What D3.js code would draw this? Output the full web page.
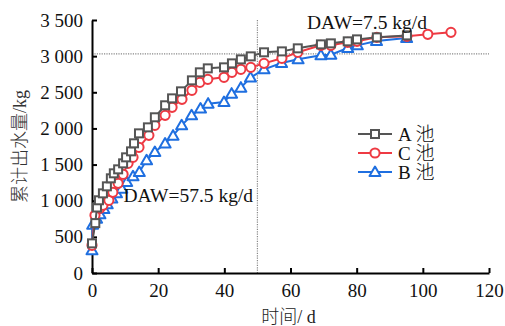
<!DOCTYPE html>
<html>
<head>
<meta charset="utf-8">
<script src="https://cdn.jsdelivr.net/npm/d3@7"></script>
<style>
  body { margin: 0; background: #fff; }
  text { font-family: "Liberation Serif", "Noto Sans CJK SC", serif; }
  .cjk { font-weight: 300; }
</style>
</head>
<body>
<div id="chart-area"></div>
<script>

// Data
var seriesNames = ["A 池", "C 池", "B 池"];
var seriesColors = ["#555555", "#ee3a43", "#1f6fe0"];
var seriesShapes = ["square", "circle", "triangle"];

var daysA = [0, 1, 1.5, 2.1, 3.3, 4.5, 5.7, 6.6, 7.9, 9.4, 10.3, 11.8, 12.7, 14.2, 16.9, 19, 22.1, 24.2, 26.9, 30.2, 32.6, 35, 39.9, 42.3, 45, 48, 52, 57.4, 62.2, 69.2, 72.2, 77.3, 80.1, 86.1, 95.2];
var valuesA = [410, 690, 906, 1006, 1102, 1199, 1310, 1379, 1434, 1517, 1600, 1683, 1794, 1932, 2015, 2154, 2320, 2416, 2513, 2665, 2776, 2831, 2845, 2900, 2955, 2997, 3053, 3066, 3108, 3163, 3177, 3205, 3232, 3260, 3287];

var daysC = [0, 0.9, 2.4, 3.3, 5.1, 6.3, 7.9, 9.4, 10.9, 12.4, 14.2, 17.2, 19, 22.1, 24.2, 27.2, 30.2, 32.6, 35, 39.9, 42.3, 45, 48, 52, 57.4, 62.2, 69.2, 72.2, 77.3, 80.1, 86.1, 95.2, 101.5, 108.5];
var valuesC = [383, 798, 895, 936, 1006, 1116, 1241, 1365, 1517, 1600, 1739, 1904, 2043, 2181, 2292, 2403, 2527, 2638, 2679, 2707, 2776, 2818, 2845, 2900, 2970, 3053, 3150, 3150, 3191, 3205, 3260, 3274, 3302, 3329];

var daysB = [0, 0.2, 1.4, 2.4, 3.6, 4.6, 6, 7.4, 9, 10.5, 12.4, 14.3, 16.5, 19, 22.1, 24.5, 27.1, 30.1, 32.8, 35.1, 39.9, 42.2, 45, 47.9, 52, 57.3, 62.3, 69.2, 72.2, 77.3, 80.2, 86, 95.1];
var valuesB = [314, 669, 752, 812, 885, 950, 1029, 1102, 1167, 1259, 1337, 1397, 1559, 1674, 1790, 1900, 2043, 2181, 2274, 2343, 2365, 2481, 2564, 2703, 2817, 2905, 2956, 3011, 3020, 3112, 3149, 3209, 3250];

var xTicks = [0, 20, 40, 60, 80, 100, 120];
var yTicks = [0, 500, 1000, 1500, 2000, 2500, 3000, 3500];

var refDay = 50;
var refValue = 3030;

var notes = [
  {text: "DAW=7.5 kg/d", day: 65, value: 3375},
  {text: "DAW=57.5 kg/d", day: 9.5, value: 980}
];

var series = [
  {days: daysA, values: valuesA},
  {days: daysC, values: valuesC},
  {days: daysB, values: valuesB}
];

// SVG drawing area
var W = 505, H = 326;
var margin = {top: 20, right: 16, bottom: 53, left: 92};
var width = W - margin.left - margin.right,
    height = H - margin.top - margin.bottom;

var svg = d3.select("#chart-area").append("svg")
    .attr("width", W)
    .attr("height", H)
    .append("g")
    .attr("transform", `translate(${margin.left}, ${margin.top})`);

// Scales
var x = d3.scaleLinear().domain([0, 120]).range([0, width]);
var y = d3.scaleLinear().domain([0, 3500]).range([height, 0]);

var fmt = d3.formatLocale({decimal: ".", thousands: " ", grouping: [3], currency: ["", ""]}).format(",");

// Reference lines
svg.append("line")
    .attr("x1", 0).attr("x2", width)
    .attr("y1", y(refValue)).attr("y2", y(refValue))
    .attr("stroke", "#888").attr("stroke-width", 1.2)
    .attr("stroke-dasharray", "1.2,1.2");

svg.append("line")
    .attr("x1", x(refDay)).attr("x2", x(refDay))
    .attr("y1", 0).attr("y2", height)
    .attr("stroke", "#888").attr("stroke-width", 1.2)
    .attr("stroke-dasharray", "1.2,1.2");

// Axes
var xAxis = d3.axisBottom(x).tickValues(xTicks).tickSizeInner(-5).tickSizeOuter(0).tickPadding(11);
var yAxis = d3.axisLeft(y).tickValues(yTicks).tickSizeInner(-5).tickSizeOuter(0).tickPadding(9).tickFormat(fmt);

var gx = svg.append("g")
    .attr("class", "x-axis")
    .attr("transform", "translate(0," + height + ")")
    .call(xAxis);

var gy = svg.append("g")
    .attr("class", "y-axis")
    .call(yAxis);

[gx, gy].forEach(function(g) {
  g.select(".domain").attr("stroke", "#000").attr("stroke-width", 2);
  g.selectAll(".tick line").attr("stroke", "#000").attr("stroke-width", 2);
  g.selectAll(".tick text").attr("font-size", 19).attr("fill", "#111");
});

// Axis titles
svg.append("text")
    .attr("class", "cjk")
    .attr("x", x(60) - 2)
    .attr("y", height + 50)
    .attr("text-anchor", "middle")
    .attr("font-size", 18)
    .attr("fill", "#222")
    .text("时间/ d");

svg.append("text")
    .attr("class", "cjk")
    .attr("transform", `translate(${-66}, ${height / 2}) rotate(-90)`)
    .attr("text-anchor", "middle")
    .attr("font-size", 18)
    .attr("fill", "#333")
    .text("累计出水量/kg");

// Marker drawing
function drawMarker(sel, shape, color) {
  if (shape === "square") {
    sel.append("rect")
        .attr("x", -4).attr("y", -4).attr("width", 8).attr("height", 8)
        .attr("fill", "#fff").attr("stroke", color).attr("stroke-width", 2);
  } else if (shape === "circle") {
    sel.append("circle")
        .attr("r", 4.6)
        .attr("fill", "#fff").attr("stroke", color).attr("stroke-width", 2);
  } else {
    sel.append("path")
        .attr("d", "M0,-5.5L5.5,4L-5.5,4Z")
        .attr("fill", "#fff").attr("stroke", color).attr("stroke-width", 2)
        .attr("stroke-linejoin", "round");
  }
}

var line = d3.line()
    .x(d => x(d[0]))
    .y(d => y(d[1]));

// Draw in order B (bottom), C, A on top like reference
[2, 1, 0].forEach(function(i) {
  var s = series[i];
  var pts = s.days.map((d, k) => [d, s.values[k]]);
  var g = svg.append("g");
  g.append("path")
      .datum(pts)
      .attr("fill", "none")
      .attr("stroke", seriesColors[i])
      .attr("stroke-width", 2)
      .attr("d", line);
  g.selectAll(".pt")
      .data(pts)
      .join("g")
      .attr("class", "pt")
      .attr("transform", d => `translate(${x(d[0])}, ${y(d[1])})`)
      .each(function() { drawMarker(d3.select(this), seriesShapes[i], seriesColors[i]); });
});

// Notes
svg.selectAll(".note")
    .data(notes)
    .join("text")
    .attr("class", "note")
    .attr("x", d => x(d.day))
    .attr("y", d => y(d.value))
    .attr("font-size", 19.5)
    .attr("fill", "#111")
    .text(d => d.text);

// Legend
var legend = svg.append("g")
    .attr("transform", `translate(${358 - margin.left}, ${134 - margin.top})`);

seriesNames.forEach(function(name, i) {
  var row = legend.append("g").attr("transform", `translate(0, ${i * 19})`);
  row.append("line")
      .attr("x1", 0).attr("x2", 34)
      .attr("stroke", seriesColors[i]).attr("stroke-width", 2);
  var m = row.append("g").attr("transform", "translate(17, 0)");
  drawMarker(m, seriesShapes[i], seriesColors[i]);
  row.append("text")
      .attr("class", "cjk")
      .attr("x", 40)
      .attr("y", 6.5)
      .attr("font-size", 19)
      .attr("fill", "#111")
      .text(name);
});

</script>
</body>
</html>
